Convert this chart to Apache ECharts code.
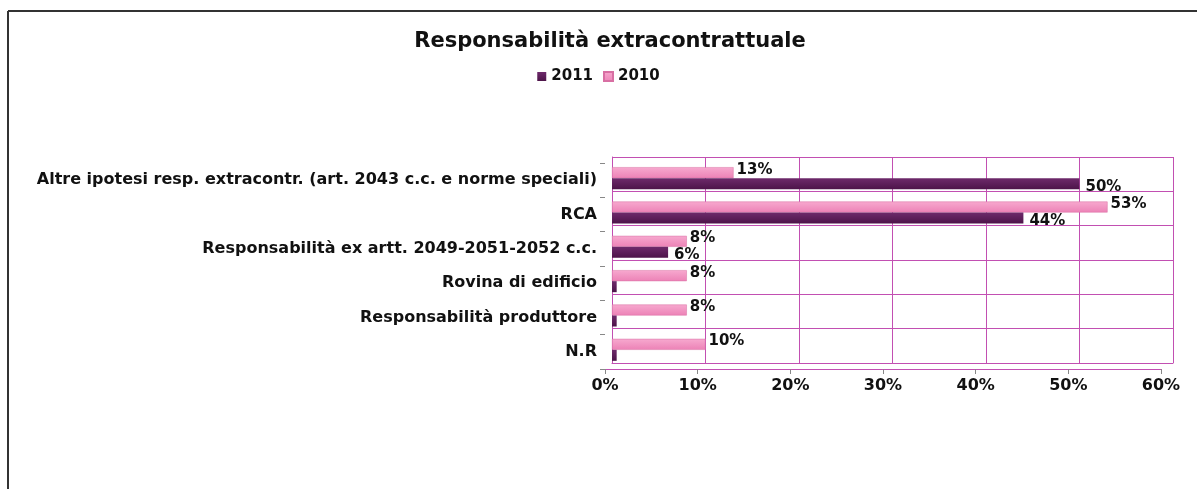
<!DOCTYPE html>
<html>
<head>
<meta charset="utf-8">
<script src="https://cdn.jsdelivr.net/npm/echarts@6/dist/echarts.min.js"></script>
<style>
html,body{margin:0;padding:0;background:#fff;}
#c{width:1197px;height:489px;}
</style>
</head>
<body>
<div id="c"></div>
<script>
const categories = [
  "Altre ipotesi resp. extracontr. (art. 2043 c.c. e norme speciali)",
  "RCA",
  "Responsabilità ex artt. 2049-2051-2052 c.c.",
  "Rovina di edificio",
  "Responsabilità produttore",
  "N.R"
];
const values2011 = [50, 44, 6, 0.5, 0.5, 0.5];
const values2010 = [13, 53, 8, 8, 8, 10];
const xTicks = { min: 0, max: 60, interval: 10 };

const FONT = "DejaVu Sans, Liberation Sans, Arial, sans-serif";
const gridColor = "#c24fb2";
const chart = echarts.init(document.getElementById('c'));
const lbl = v => (v.value >= 1 ? v.value + '%' : '');

chart.setOption({
  animation: false,
  title: {
    text: "Responsabilità extracontrattuale",
    left: 605, textAlign: 'center', top: 26,
    textStyle: { fontFamily: FONT, fontWeight: 'bold', fontSize: 21, color: '#111' }
  },
  legend: {
    data: ['2011', '2010'],
    left: 'center', top: 64, itemWidth: 9, itemHeight: 9, itemGap: 10,
    textStyle: { fontFamily: FONT, fontWeight: 'bold', fontSize: 15, color: '#111' },
    icon: 'rect'
  },
  graphic: [
    { type: 'line', shape: { x1: 8, y1: 11, x2: 1197, y2: 11 }, style: { stroke: '#333', lineWidth: 2 } },
    { type: 'line', shape: { x1: 8, y1: 11, x2: 8, y2: 489 }, style: { stroke: '#333', lineWidth: 2 } }
  ],
  grid: [
    { left: 612, right: 24, top: 157, bottom: 126 },   // back wall
    { left: 605, right: 36, top: 163, bottom: 120 },   // front axis plane
    { left: 612, right: 24, top: 161, bottom: 122 }    // bars
  ],
  xAxis: [
    {
      gridIndex: 0, type: 'value', min: xTicks.min, max: xTicks.max, interval: xTicks.interval,
      axisLabel: { show: false },
      axisLine: { show: true, lineStyle: { color: gridColor } },
      axisTick: { show: false },
      splitLine: { show: true, lineStyle: { color: gridColor, width: 1 } }
    },
    {
      gridIndex: 1, type: 'value', min: xTicks.min, max: xTicks.max, interval: xTicks.interval,
      axisLabel: { formatter: '{value}%', fontFamily: FONT, fontWeight: 'bold', fontSize: 16, color: '#111', margin: 9 },
      axisLine: { show: true, lineStyle: { color: gridColor } },
      axisTick: { show: true, length: 5, lineStyle: { color: '#888' } },
      splitLine: { show: false }
    },
    {
      gridIndex: 2, type: 'value', min: xTicks.min, max: xTicks.max, interval: xTicks.interval,
      show: false
    }
  ],
  yAxis: [
    {
      gridIndex: 0, type: 'category', data: categories, inverse: true,
      axisLabel: { show: false },
      axisLine: { show: true, lineStyle: { color: gridColor } },
      axisTick: { show: false },
      splitLine: { show: true, lineStyle: { color: gridColor, width: 1 } }
    },
    {
      gridIndex: 1, type: 'category', data: categories, inverse: true,
      axisLabel: { fontFamily: FONT, fontWeight: 'bold', fontSize: 16, color: '#111', margin: 8 },
      axisLine: { show: false },
      axisTick: { show: true, length: 5, lineStyle: { color: '#888' } },
      splitLine: { show: false }
    },
    {
      gridIndex: 2, type: 'category', data: categories, inverse: true, show: false
    }
  ],
  series: [
    {
      name: '2010', type: 'bar', xAxisIndex: 2, yAxisIndex: 2,
      data: values2010, barWidth: 11, barGap: '0%',
      itemStyle: {
        color: new echarts.graphic.LinearGradient(0, 0, 0, 1, [
          { offset: 0, color: '#f7a9cf' }, { offset: 1, color: '#ec82b6' }
        ]),
        borderColor: '#d86fa3', borderWidth: 0.5
      },
      label: { show: true, position: 'right', distance: 3, formatter: lbl,
        fontFamily: FONT, fontWeight: 'bold', fontSize: 15, color: '#111', offset: [0, -3] }
    },
    {
      name: '2011', type: 'bar', xAxisIndex: 2, yAxisIndex: 2,
      data: values2011, barWidth: 11, barGap: '0%',
      itemStyle: {
        color: new echarts.graphic.LinearGradient(0, 0, 0, 1, [
          { offset: 0, color: '#6e2a6b' }, { offset: 1, color: '#4d1449' }
        ])
      },
      label: { show: true, position: 'right', distance: 6, formatter: lbl,
        fontFamily: FONT, fontWeight: 'bold', fontSize: 15, color: '#111', offset: [0, 3] }
    }
  ]
});
</script>
</body>
</html>
